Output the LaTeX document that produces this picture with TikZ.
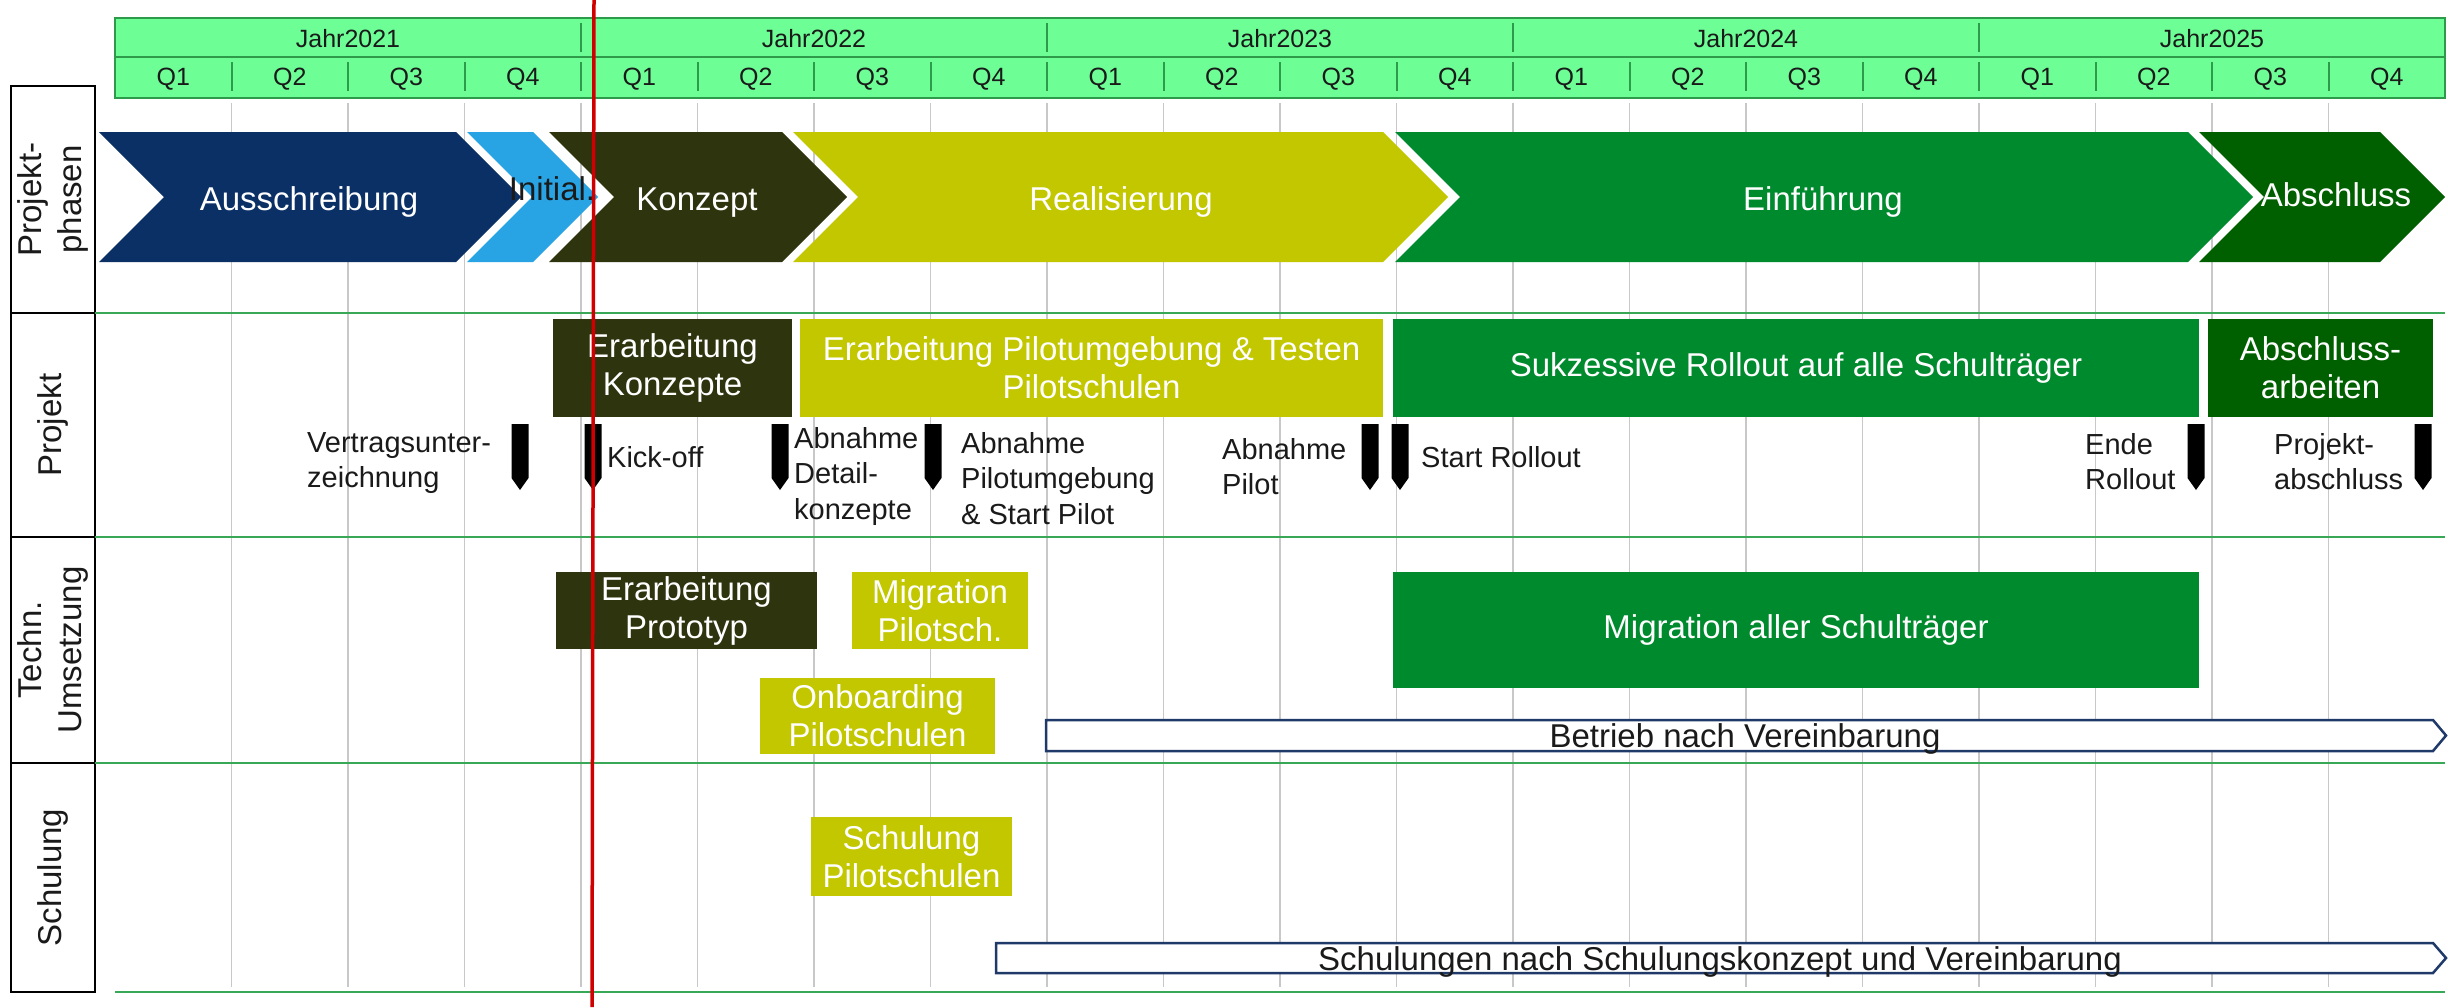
\documentclass[tikz,border=0pt]{standalone}
\usepackage{fontspec}
\setmainfont{Liberation Sans}
\definecolor{hdrfill}{HTML}{6DFF96}
\definecolor{hdrline}{HTML}{2E9B4B}
\definecolor{rowline}{HTML}{38A857}
\definecolor{gridgray}{HTML}{C8C8C8}
\definecolor{cnavy}{HTML}{0A3066}
\definecolor{cblue}{HTML}{28A4E4}
\definecolor{colive}{HTML}{2E340E}
\definecolor{cyellow}{HTML}{C2C700}
\definecolor{cgreen}{HTML}{008A2E}
\definecolor{cdkgreen}{HTML}{006000}
\definecolor{arrnavy}{HTML}{1F3A68}
\definecolor{redline}{HTML}{D00000}
\definecolor{txt}{HTML}{1A1A1A}
\newcommand\fBig{\fontsize{33}{38}\selectfont}
\newcommand\fMs{\fontsize{29}{35.5}\selectfont}
\newcommand\fHdr{\fontsize{25}{30}\selectfont}
\newcommand\fRow{\fontsize{33}{40}\selectfont}
\newcommand\chev[3]{\fill[#3] (#1,132) -- (#2,132) -- ({#2+65},197) -- (#2,262) -- (#1,262) -- ({#1+65},197) -- cycle;}
\newcommand\msmark[1]{\fill[black] ({#1-8.5},424) -- ({#1+8.5},424) -- ({#1+8.5},478) -- (#1,490) -- ({#1-8.5},478) -- cycle;}
\begin{document}
\begin{tikzpicture}[x=1pt,y=-1pt,
  bar/.style={draw=none, inner sep=0, align=center, text=white, font=\fBig},
  chevtext/.style={anchor=base, inner sep=0, text=white, font=\fBig},
  mslab/.style={anchor=north west, inner sep=0, align=left, text=txt, font=\fMs},
  hdrtext/.style={anchor=base, inner sep=0, text=txt, font=\fHdr},
  rowlab/.style={rotate=90, align=center, inner sep=0, text=txt, font=\fRow},
  lblbox/.style={draw=black, line width=2pt},
  rowsep/.style={draw=rowline, line width=2.5pt},
  gridln/.style={draw=gridgray, line width=1.5pt},
  hdrln/.style={draw=hdrline, line width=2.5pt},
  oparr/.style={draw=arrnavy, line width=2.5pt, fill=white},
  arrtext/.style={anchor=base, inner sep=0, text=txt, font=\fBig}]
\useasboundingbox (0,0) rectangle (2448,1007);
\fill[white] (0,0) rectangle (2448,1007);

% grid lines
\foreach \k in {1,...,19} \draw[gridln] ({115+116.5*\k},103) -- ({115+116.5*\k},987);

% header
\draw[hdrln, fill=hdrfill] (115,18) rectangle (2445,98);
\draw[hdrln] (115,57) -- (2445,57);
\foreach \k in {1,...,19} \draw[hdrln, line width=2pt] ({115+116.5*\k},62) -- ({115+116.5*\k},91);
\foreach \k in {4,8,12,16} \draw[hdrln, line width=2pt] ({115+116.5*\k},23) -- ({115+116.5*\k},52);
\foreach \yr [count=\i from 0] in {2021,2022,2023,2024,2025}
  \node[hdrtext] (y\yr) at ({115+116.5*(4*\i+2)},47) {Jahr\yr};
\foreach \k in {0,...,19} {
  \pgfmathtruncatemacro\qq{mod(\k,4)+1}
  \node[hdrtext] (q\k) at ({115+116.5*(\k+0.5)},85) {Q\qq};
}

% row label boxes
\draw[lblbox] (11,86) rectangle (95,313);
\draw[lblbox] (11,313) rectangle (95,537);
\draw[lblbox] (11,537) rectangle (95,763);
\draw[lblbox] (11,763) rectangle (95,992);
\node[rowlab] (lPhasen) at (53,199.5) {Projekt-\\phasen};
\node[rowlab] (lProjekt) at (53,425) {Projekt};
\node[rowlab] (lTechn) at (53,650) {Techn.\\Umsetzung};
\node[rowlab] (lSchul) at (53,877.5) {Schulung};

% row separators
\draw[rowsep] (95,313) -- (2445,313);
\draw[rowsep] (95,537) -- (2445,537);
\draw[rowsep] (95,763) -- (2445,763);
\draw[rowsep] (115,992) -- (2445,992);

% phase chevrons
\chev{99}{456}{cnavy}
\chev{467}{533}{cblue}
\chev{549}{782}{colive}
\chev{793}{1383}{cyellow}
\chev{1395}{2188}{cgreen}
\chev{2199}{2380}{cdkgreen}
\node[chevtext] (pAus) at (309,210) {Ausschreibung};
\node[chevtext, text=txt] (pInit) at (552,200) {Initial.};
\node[chevtext] (pKonz) at (697,210) {Konzept};
\node[chevtext] (pReal) at (1121,210) {Realisierung};
\node[chevtext] (pEinf) at (1823,210) {Einführung};
\node[chevtext] (pAbs) at (2336,206) {Abschluss};

% Projekt row bars
\node[bar, fill=colive, minimum width=239, minimum height=98] (bKonz) at (672.5,368) {Erarbeitung\\Konzepte};
\node[bar, fill=cyellow, minimum width=583, minimum height=98] (bPilot) at (1091.5,368) {Erarbeitung Pilotumgebung \& Testen\\Pilotschulen};
\node[bar, fill=cgreen, minimum width=806, minimum height=98] (bRoll) at (1796,368) {Sukzessive Rollout auf alle Schulträger};
\node[bar, fill=cdkgreen, minimum width=225, minimum height=98] (bAbs) at (2320.5,368) {Abschluss-\\arbeiten};

% milestones
\msmark{520}
\msmark{593}
\msmark{780}
\msmark{933}
\msmark{1370}
\msmark{1400}
\msmark{2196}
\msmark{2423}
\node[mslab] (mVert) at (307,432) {Vertragsunter-\\zeichnung};
\node[mslab] (mKick) at (607,446) {Kick-off};
\node[mslab] (mDet) at (794,427) {Abnahme\\Detail-\\konzepte};
\node[mslab] (mPU) at (961,432) {Abnahme\\Pilotumgebung\\\& Start Pilot};
\node[mslab] (mPil) at (1222,438) {Abnahme\\Pilot};
\node[mslab] (mStart) at (1421,446) {Start Rollout};
\node[mslab] (mEnde) at (2085,433) {Ende\\Rollout};
\node[mslab] (mPA) at (2274,433) {Projekt-\\abschluss};

% Techn. Umsetzung row
\node[bar, fill=colive, minimum width=261, minimum height=77] (bProto) at (686.5,610.5) {Erarbeitung\\Prototyp};
\node[bar, fill=cyellow, minimum width=176, minimum height=77] (bMigP) at (940,610.5) {Migration\\Pilotsch.};
\node[bar, fill=cgreen, minimum width=806, minimum height=116] (bMigA) at (1796,630) {Migration aller Schulträger};
\node[bar, fill=cyellow, minimum width=235, minimum height=76] (bOnb) at (877.5,716) {Onboarding\\Pilotschulen};
\draw[oparr] (1046,720) -- (2433,720) -- (2446,735.5) -- (2433,751) -- (1046,751) -- cycle;
\node[arrtext] (tBetrieb) at (1745,747) {Betrieb nach Vereinbarung};

% Schulung row
\node[bar, fill=cyellow, minimum width=201, minimum height=79] (bSchP) at (911.5,856.5) {Schulung\\Pilotschulen};
\draw[oparr] (996,943) -- (2433,943) -- (2446,958) -- (2433,973) -- (996,973) -- cycle;
\node[arrtext] (tSchul) at (1720,970) {Schulungen nach Schulungskonzept und Vereinbarung};

% today line
\draw[redline, line width=3.5pt] (594,0) -- (592,1007);
\end{tikzpicture}
\end{document}
